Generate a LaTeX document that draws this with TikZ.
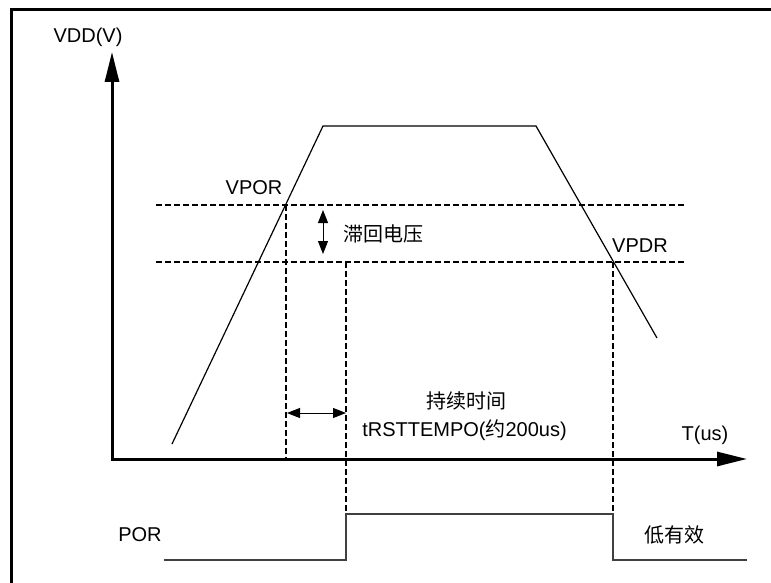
\documentclass[tikz,border=0pt]{standalone}
\usepackage{fontspec}
\setmainfont{Liberation Sans}
\newfontfamily\cjk{Noto Sans CJK SC}
\usetikzlibrary{arrows.meta}
\begin{document}
\begin{tikzpicture}[x=1pt,y=-1pt,
  lbl/.style={inner sep=0pt,font=\fontsize{20}{24}\selectfont},
  axisline/.style={line width=3pt,{Triangle[length=30pt,width=14pt]}-{Triangle[length=30pt,width=14pt]}},
  guide/.style={line width=1.3pt,dash pattern=on 6pt off 3pt},
  curve/.style={line width=1.2pt},
  dbl/.style={line width=1pt,{Triangle[length=13pt,width=10pt]}-{Triangle[length=13pt,width=10pt]}},
  sig/.style={line width=1.3pt,draw=black!75}]
\useasboundingbox (0,0) rectangle (771,583);
\fill[white] (0,0) rectangle (771,583);
% frame
\draw[line width=3pt] (11.5,583) -- (11.5,9.7) -- (771,9.7);
% axes
\coordinate (O) at (112,459);
\coordinate (ytip) at (112,52);
\coordinate (xtip) at (747,459);
\draw[axisline] (ytip) -- (O) -- (xtip);
\node[lbl] (vdd) at (88,37) {VDD(V)};
\node[lbl] (tus) at (705,435) {T(us)};
% VDD curve
\coordinate (c1) at (172,444);
\coordinate (c2) at (323,126);
\coordinate (c3) at (536,126);
\coordinate (c4) at (657,338);
\draw[curve] (c1) -- (c2) -- (c3) -- (c4);
% thresholds
\coordinate (vporL) at (156,205);
\coordinate (vporR) at (684,205);
\coordinate (vpdrL) at (156,262);
\coordinate (vpdrR) at (684,262);
\draw[guide] (vporL) -- (vporR);
\draw[guide] (vpdrL) -- (vpdrR);
\node[lbl] (vpor) at (254,188) {VPOR};
\node[lbl] (vpdr) at (640,246) {VPDR};
% intersections and verticals
\coordinate (p1) at (286,205);
\coordinate (p1b) at (286,459);
\coordinate (p2) at (346,262);
\coordinate (p2b) at (346,514);
\coordinate (p3) at (613,262);
\coordinate (p3b) at (613,514);
\draw[guide] (p1) -- (p1b);
\draw[guide] (p2) -- (p2b);
\draw[guide] (p3) -- (p3b);
% hysteresis
\coordinate (h1) at (323,210);
\coordinate (h2) at (323,254);
\draw[dbl] (h1) -- (h2);
\node[lbl] (hyst) at (383,234) {\cjk 滞回电压};
% duration
\coordinate (d1) at (287,413);
\coordinate (d2) at (346,413);
\draw[dbl] (d1) -- (d2);
\node[lbl] (dur) at (466,401) {\cjk 持续时间};
\node[lbl] (trst) at (464.5,430) {tRSTTEMPO({\cjk 约}200us)};
% POR signal
\node[lbl] (por) at (140,535) {POR};
\node[lbl] (low) at (674,535) {\cjk 低有效};
\coordinate (s0) at (164,560);
\coordinate (s1) at (346,560);
\coordinate (s4) at (613,560);
\coordinate (s5) at (747,560);
\draw[sig] (s0) -- (s1) -- (p2b) -- (p3b) -- (s4) -- (s5);
\end{tikzpicture}
\end{document}
